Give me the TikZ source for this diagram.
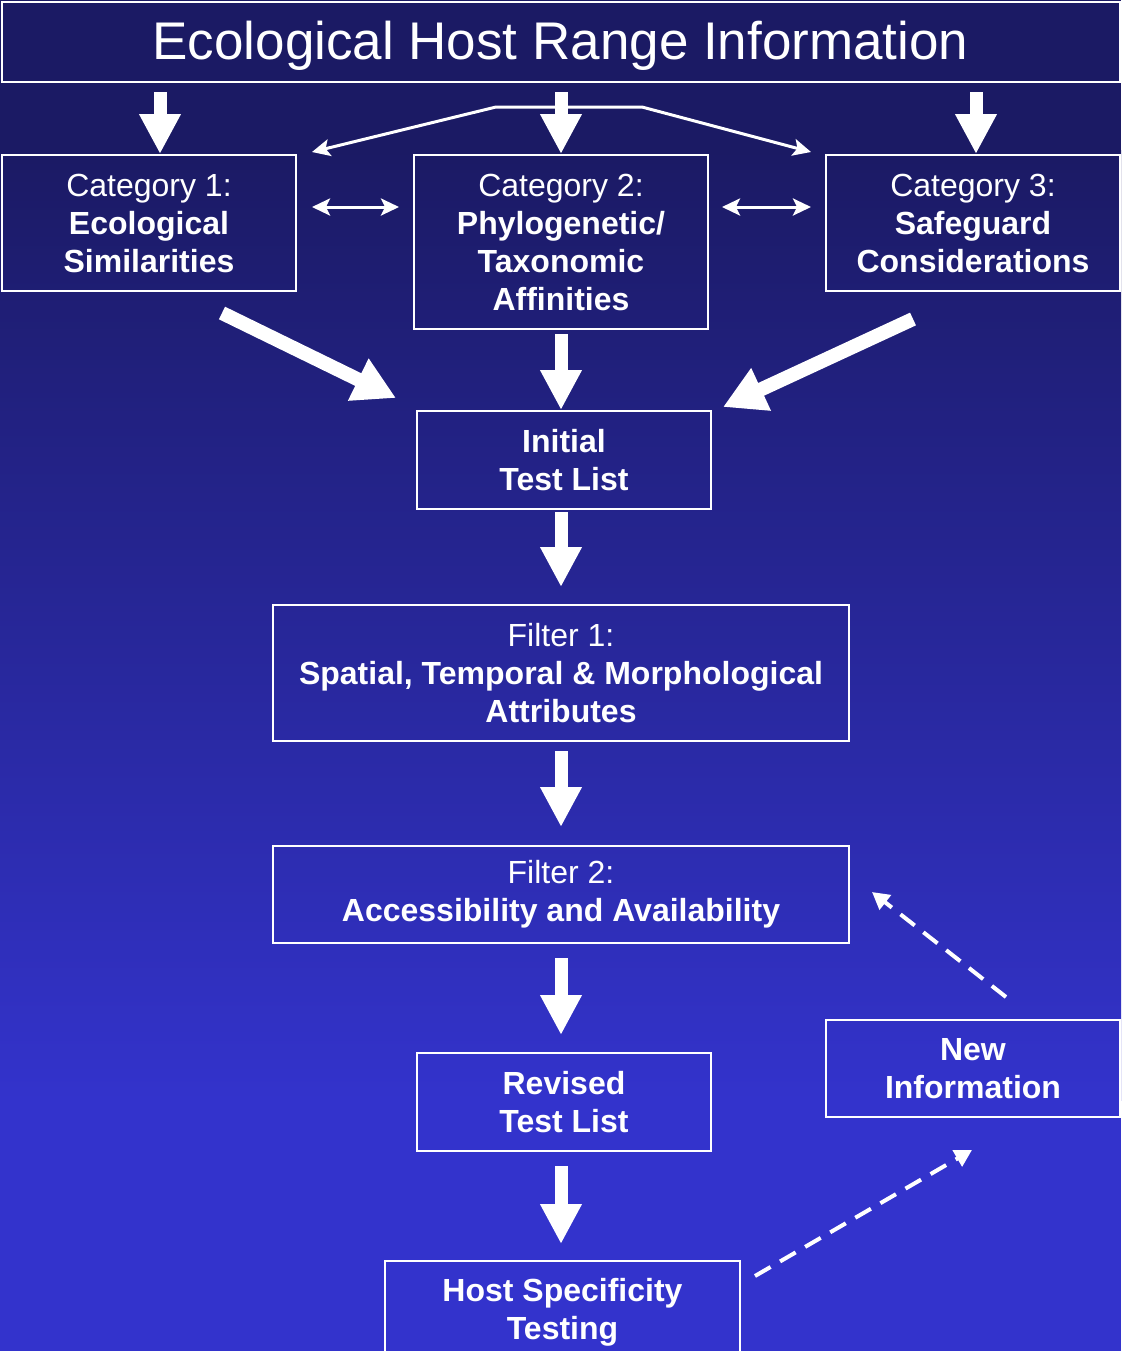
\documentclass[tikz,border=0pt]{standalone}
\usepackage{fontspec}
\setmainfont{Liberation Sans}
\usetikzlibrary{arrows.meta}
\definecolor{bgtop}{RGB}{27,26,100}
\definecolor{bgbot}{RGB}{51,51,204}

\begin{document}
\begin{tikzpicture}[x=0.5pt, y=-0.5pt, >={Stealth[length=9pt,width=8.5pt,inset=2pt]},
	b/.style={draw=white, line width=1pt, text=white, align=center, inner sep=0pt, font=\fontsize{16}{19}\selectfont},
	blk/.style={white, line width=6.5pt, -{Triangle[width=19.5pt,length=20pt]}},
	dg/.style={white, line width=7pt, -{Triangle[width=22pt,length=21pt]}},
	ln/.style={white, line width=1.5pt},
	ds/.style={white, line width=2pt, dash pattern=on 9pt off 5.5pt, -{Triangle[width=9pt,length=8.5pt]}}]
		\useasboundingbox (0,0) rectangle (1121,1351);
		\fill[bgtop] (0,0) rectangle (1121,151);
		\shade[top color=bgtop, bottom color=bgbot] (0,150) rectangle (1121,1100);
		\fill[bgbot] (0,1099) rectangle (1121,1351);

		\node[b, minimum width=559pt, minimum height=40pt, font=\fontsize{26.5}{30}\selectfont] (T) at (560.5,41.5) {};
		\node[text=white, font=\fontsize{26.5}{30}\selectfont] (Tt) at (560.5,46) {Ecological Host Range Information};
		\node[b, minimum width=147pt, minimum height=68pt] (C1) at (149,223) {Category 1:\\\textbf{Ecological}\\\textbf{Similarities}};
		\node[b, minimum width=147pt, minimum height=87pt] (C2) at (561,242) {Category 2:\\\textbf{Phylogenetic/}\\\textbf{Taxonomic}\\\textbf{Affinities}};
		\node[b, minimum width=147pt, minimum height=68pt] (C3) at (973,223) {Category 3:\\\textbf{Safeguard}\\\textbf{Considerations}};
		\node[b, minimum width=147pt, minimum height=49pt] (I) at (564,460) {\textbf{Initial}\\\textbf{Test List}};
		\node[b, minimum width=288pt, minimum height=68pt] (F1) at (561,673) {Filter 1:\\\textbf{Spatial, Temporal \& Morphological}\\\textbf{Attributes}};
		\node[b, minimum width=288pt, minimum height=48.5pt] (F2) at (561,894.5) {Filter 2:\\\textbf{Accessibility and Availability}};
		\node[b, minimum width=147pt, minimum height=49pt] (R) at (564,1102) {\textbf{Revised}\\\textbf{Test List}};
		\node[b, minimum width=147pt, minimum height=48.5pt] (N) at (973,1068.5) {\textbf{New}\\\textbf{Information}};
		\node[b, minimum width=177.5pt, minimum height=51pt] (H) at (562.5,1312) {\textbf{Host Specificity}\\\textbf{Testing}};

		\draw[blk] ([xshift=5.5pt,yshift=31pt]C1.north) -- ([xshift=5.5pt]C1.north);
		\draw[blk] ([yshift=31pt]C2.north) -- (C2.north);
		\draw[blk] ([xshift=1.5pt,yshift=31pt]C3.north) -- ([xshift=1.5pt]C3.north);
		\draw[ln, <->] ([xshift=7.5pt,yshift=1pt]C1.north east) -- ([xshift=-32.5pt,yshift=23.5pt]C2.north) -- ([xshift=40.5pt,yshift=23.5pt]C2.north) -- ([xshift=-7pt,yshift=1pt]C3.north west);
		\draw[ln, <->] ([xshift=7.5pt,yshift=8pt]C1.east) -- ([xshift=51pt,yshift=8pt]C1.east);
		\draw[ln, <->] ([xshift=-51.5pt,yshift=8pt]C3.west) -- ([xshift=-7pt,yshift=8pt]C3.west);

		\draw[dg] ([xshift=36.5pt,yshift=-10.5pt]C1.south) -- ([xshift=-10pt,yshift=6pt]I.north west);
		\draw[dg] ([xshift=-30pt,yshift=-13.5pt]C3.south) -- ([xshift=5.5pt,yshift=1.5pt]I.north east);
		\draw[blk] ([yshift=-2pt]C2.south) -- (C2.south |- I.north);
		\draw[blk] ([yshift=-1pt]I.south -| F1.north) -- ([yshift=8.5pt]F1.north);
		\draw[blk] ([yshift=-4.5pt]F1.south) -- ([yshift=9pt]F2.north);
		\draw[blk] ([yshift=-7pt]F2.south) -- ([yshift=8.5pt]R.north -| F2.south);
		\draw[blk] ([yshift=-7pt]R.south -| F2.south) -- ([yshift=8pt]H.north -| F2.south);

		\draw[ds] ([xshift=16.5pt,yshift=11pt]N.north) -- ([xshift=11pt,yshift=1.25pt]F2.east);
		\draw[ds] ([xshift=7pt,yshift=-8pt]H.north east) -- ([xshift=-0.5pt,yshift=-16pt]N.south);
	\end{tikzpicture}
\end{document}
